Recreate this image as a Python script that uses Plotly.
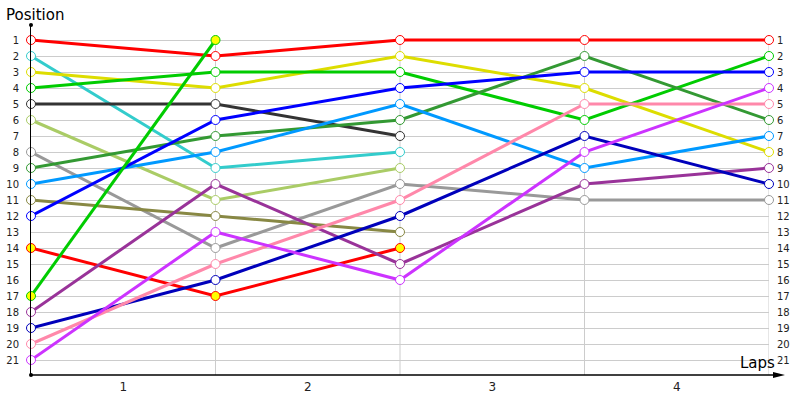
import plotly.graph_objects as go

laps = [0, 1, 2, 3, 4]
lap_labels = ["1", "2", "3", "4"]
positions = list(range(1, 22))

series = [
    ("#FF0000", [1, 2, 1, 1, 1], "white"),
    ("#33CCCC", [2, 9, 8], "white"),
    ("#DDDD00", [3, 4, 2, 4, 8], "white"),
    ("#00CC00", [4, 3, 3, 6, 2], "white"),
    ("#333333", [5, 5, 7], "white"),
    ("#AACC66", [6, 11, 9], "white"),
    ("#999999", [8, 14, 10, 11, 11], "white"),
    ("#339933", [9, 7, 6, 2, 6], "white"),
    ("#0099FF", [10, 8, 5, 9, 7], "white"),
    ("#888844", [11, 12, 13], "white"),
    ("#0000FF", [12, 6, 4, 3, 3], "white"),
    ("#FF0000", [14, 17, 14], "#FFFF00"),
    ("#00CC00", [17, 1], "#FFFF00"),
    ("#993399", [18, 10, 15, 10, 9], "white"),
    ("#0000BB", [19, 16, 12, 7, 10], "white"),
    ("#FF88AA", [20, 15, 11, 5, 5], "white"),
    ("#CC33FF", [21, 13, 16, 8, 4], "white"),
]

W, H = 738, 350
fig = go.Figure()

YR = [21.9375, 0.0625]

# vertical grid lines
for lp in laps[1:]:
    fig.add_shape(type="line", x0=lp, x1=lp, y0=1, y1=YR[0], xref="x", yref="y",
                  line=dict(color="#CCCCCC", width=1), layer="below")

for color, vals, fill in series:
    fig.add_trace(go.Scatter(
        x=laps[:len(vals)], y=vals, mode="lines+markers",
        line=dict(color=color, width=3),
        marker=dict(symbol="circle", size=9, color=fill, line=dict(color=color, width=1)),
        showlegend=False, hoverinfo="skip", cliponaxis=False,
    ))

# dummy trace for right axis
fig.add_trace(go.Scatter(x=[0], y=[1], yaxis="y2", mode="markers",
                         marker=dict(opacity=0), showlegend=False, hoverinfo="skip"))

font = dict(family="DejaVu Sans", size=10, color="#222222")

fig.update_layout(
    width=800, height=400,
    margin=dict(l=31, r=31, t=25, b=25, autoexpand=False),
    plot_bgcolor="white", paper_bgcolor="white",
    xaxis=dict(range=[0, 4], showgrid=False, zeroline=False, showline=False, automargin=False,
               tickvals=[0.5, 1.5, 2.5, 3.5], ticktext=lap_labels, ticks="",
               ticklabelstandoff=3,
               tickfont=dict(family="DejaVu Sans", size=12, color="#222222")),
    yaxis=dict(range=YR, tickvals=positions, ticktext=[str(p) for p in positions],
               showgrid=True, gridcolor="#CCCCCC", gridwidth=1, zeroline=False, automargin=False,
               showline=True, linecolor="black", linewidth=1, ticks="",
               ticklabelstandoff=9, tickfont=font),
    yaxis2=dict(range=YR, overlaying="y", side="right", tickvals=positions, automargin=False,
                ticktext=[str(p) for p in positions], showgrid=False, zeroline=False,
                showline=False, ticks="", ticklabelstandoff=7, tickfont=font),
)

# bottom axis with arrow
fig.add_shape(type="line", x0=0, x1=(778 - 31) / W, y0=0, y1=0, xref="paper", yref="paper",
              line=dict(color="black", width=1.5))
fig.add_shape(type="path", xref="paper", yref="paper", xsizemode="pixel", ysizemode="pixel",
              xanchor=1, yanchor=0,
              path="M 4 -3 L 16 0 L 4 3 Z", fillcolor="black", line=dict(width=0))
# dots
fig.add_shape(type="circle", x0=-2, x1=2, y0=-2, y1=2, xref="paper", yref="paper",
              xsizemode="pixel", ysizemode="pixel", xanchor=0, yanchor=1,
              fillcolor="black", line=dict(width=0))
fig.add_shape(type="circle", x0=-2, x1=2, y0=-2, y1=2, xref="paper", yref="paper",
              xsizemode="pixel", ysizemode="pixel", xanchor=0, yanchor=0,
              fillcolor="black", line=dict(width=0))

fig.add_annotation(x=(4 - 31) / W, y=1 + 21 / H, xref="paper", yref="paper", text="Position",
                   showarrow=False, xanchor="left", yanchor="top",
                   font=dict(family="DejaVu Sans", size=15, color="black"))

fig.add_annotation(x=(777 - 31) / W, y=1 / H, xref="paper", yref="paper", text="Laps",
                   showarrow=False, xanchor="right", yanchor="bottom",
                   font=dict(family="DejaVu Sans", size=15, color="black"))

fig.write_html("out.html", post_script="document.body.style.margin='0';",
               config={"displayModeBar": False})
